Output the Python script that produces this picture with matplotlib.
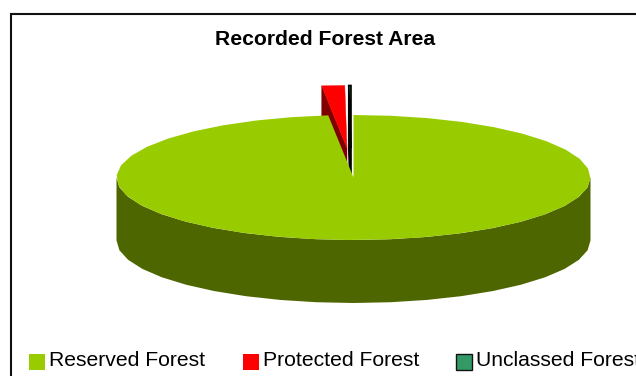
import numpy as np
import matplotlib
matplotlib.use("Agg")
import matplotlib.pyplot as plt
from matplotlib.patches import Polygon, Rectangle

plt.rcParams["font.family"] = ["Liberation Sans", "DejaVu Sans"]

# Share of the recorded forest area, percent
categories = ["Reserved Forest", "Protected Forest", "Unclassed Forest"]
shares = [98.3, 1.55, 0.15]
top_colors = ["#99cc00", "#ff0000", "#339966"]
wall_colors = ["#4d6600", "#800000", "#000000"]
title = "Recorded Forest Area"

# Pie geometry in pixel coordinates
CX, CY, RX, RY, DEPTH = 353.5, 177.5, 237.0, 62.5, 63.0
OFFSETS = [(0.0, 0.0), (-6.5, -29.5), (-2.5, -29.5)]


def rim(t0, t1, step=9.0, dx=0.0, dy=0.0):
    """Rim points between two clockwise angles (degrees from 12 o'clock)."""
    n = max(int(abs(t1 - t0) / step), 1)
    t = np.radians(np.linspace(t0, t1, n + 1))
    return np.column_stack([CX + dx + RX * np.sin(t), CY + dy - RY * np.cos(t)])


fig = plt.figure(figsize=(6.36, 3.76), dpi=100)
ax = fig.add_axes([0, 0, 1, 1])
ax.set_xlim(0, 636)
ax.set_ylim(376, 0)
ax.axis("off")

# Chart frame, running off the right and bottom edges
ax.plot([11, 11, 640], [380, 14, 14], color="#111111", lw=1.5, solid_joinstyle="miter")

ax.text(325, 39.5, title, ha="center", va="center", fontsize=15.2, fontweight="bold", color="black")

angles = np.cumsum([0] + shares) * 3.6

# Pulled-out slices first: their lower parts sit behind the main slice
for i in (1, 2):
    dx, dy = OFFSETS[i]
    a0, a1 = angles[i], angles[i + 1]
    apex = np.array([CX + dx, CY + dy])
    edge = rim(a0, a1, dx=dx, dy=dy)
    corner = edge[0]
    wall = np.array([corner, apex, apex + [0, DEPTH], corner + [0, DEPTH]])
    wall_width = 1.2 if i == 2 else 0.3
    ax.add_patch(Polygon(wall, closed=True, fc=wall_colors[i], ec=wall_colors[i], lw=wall_width, zorder=2))
    top = np.vstack([apex, edge])
    edge_color = "black" if i == 2 else top_colors[i]
    edge_width = 1.2 if i == 2 else 0.3
    ax.add_patch(Polygon(top, closed=True, fc=top_colors[i], ec=edge_color, lw=edge_width, zorder=3))

# Front wall of the main slice
front = rim(90, 270)
wall = np.vstack([front, (front + [0, DEPTH])[::-1]])
ax.add_patch(Polygon(wall, closed=True, fc=wall_colors[0], ec="none", zorder=4))

# Top face of the main slice
top = np.vstack([[CX, CY], rim(angles[0], angles[1])])
ax.add_patch(Polygon(top, closed=True, fc=top_colors[0], ec="none", zorder=5))

# Legend row
legend_x = [29, 243, 456]
for x, name, color in zip(legend_x, categories, top_colors):
    is_outlined = color == top_colors[2]
    ax.add_patch(Rectangle((x, 354), 15.5, 16, fc=color,
                           ec="#111111" if is_outlined else "none", lw=1.0, zorder=6))
    ax.text(x + 20, 360, name, ha="left", va="center", fontsize=15.2, color="black", clip_on=True)

fig.savefig("out.png", dpi=100, facecolor="white")
